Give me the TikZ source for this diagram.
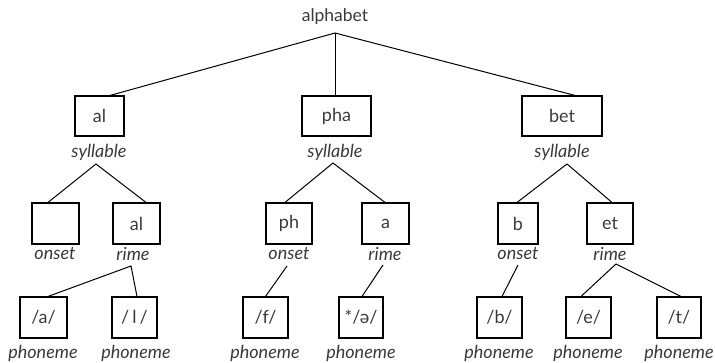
\documentclass[tikz,border=0pt]{standalone}
\usepackage{fontspec}
\setmainfont{Lato}
\definecolor{txt}{HTML}{3A3A3A}
\tikzset{
  box/.style={draw=black, line width=1.1pt, minimum height=40pt, inner sep=0pt, text=txt, font=\fontsize{18}{21}\selectfont},
  lab/.style={text=txt, font=\fontsize{18}{21}\selectfont\itshape, inner sep=0pt},
  conn/.style={draw=black, line width=1pt},
}
\begin{document}
\begin{tikzpicture}[x=1pt,y=-1pt]
\useasboundingbox (0,0) rectangle (715,363);
% root
\node[text=txt, font=\fontsize{17.5}{21}\selectfont, inner sep=0pt] (root) at (335,17) {alphabet};
\coordinate (rootA) at (335,33);
% level 1
\node[box, minimum width=49pt] (al) at (99.5,116) {al};
\node[box, minimum width=69pt] (pha) at (336.5,116) {pha};
\node[box, minimum width=80pt] (bet) at (562,116) {bet};
\node[lab] (alS) at (99,152) {syllable};
\node[lab] (phaS) at (335,152) {syllable};
\node[lab] (betS) at (562,152) {syllable};
\coordinate (alA) at (96,164);
\coordinate (phaA) at (333,163);
\coordinate (betA) at (567,164);
% level 2
\node[box, minimum width=47pt, minimum height=41pt] (on1) at (55.5,223.5) {};
\node[box, minimum width=47pt, minimum height=41pt] (ri1) at (136.5,223.5) {al};
\node[box, minimum width=46pt, minimum height=41pt] (on2) at (289,223.5) {ph};
\node[box, minimum width=47pt, minimum height=41pt] (ri2) at (385.5,223.5) {a};
\node[box, minimum width=40pt, minimum height=41pt] (on3) at (518,223.5) {b};
\node[box, minimum width=46pt, minimum height=41pt] (ri3) at (610,223.5) {et};
\node[lab] (on1L) at (55,254) {onset};
\node[lab] (ri1L) at (133,254) {rime};
\node[lab] (on2L) at (289,254) {onset};
\node[lab] (ri2L) at (385,254) {rime};
\node[lab] (on3L) at (518,254) {onset};
\node[lab] (ri3L) at (610,254) {rime};
\coordinate (ri1A) at (131,266);
\coordinate (on2A) at (287,266);
\coordinate (ri2A) at (383,265);
\coordinate (on3A) at (518,265);
\coordinate (ri3A) at (616,264);
% level 3
\node[box, minimum width=47pt, minimum height=41pt] (p1) at (43.5,317.5) {/a/};
\node[box, minimum width=45pt, minimum height=41pt] (p2) at (134.5,317.5) {/\,l\,/};
\node[box, minimum width=45pt, minimum height=41pt] (p3) at (265.5,317.5) {/f/};
\node[box, minimum width=44pt, minimum height=41pt] (p4) at (361,317.5) {*/ə/};
\node[box, minimum width=45pt, minimum height=41pt] (p5) at (499.5,317.5) {/b/};
\node[box, minimum width=45pt, minimum height=41pt] (p6) at (588.5,317.5) {/e/};
\node[box, minimum width=44pt, minimum height=41pt] (p7) at (679,317.5) {/t/};
\node[lab] at (43,353) (p1L) {phoneme};
\node[lab] at (136,353) (p2L) {phoneme};
\node[lab] at (265,353) (p3L) {phoneme};
\node[lab] at (361,353) (p4L) {phoneme};
\node[lab] at (499,353) (p5L) {phoneme};
\node[lab] at (588,353) (p6L) {phoneme};
\node[lab] at (679,353) (p7L) {phoneme};
% connectors
\draw[conn] ([xshift=10.5pt]al.north) -- (rootA) -- ([xshift=13pt]bet.north);
\draw[conn] (rootA) -- ([xshift=-1.5pt]pha.north);
\draw[conn] ([xshift=-7.5pt]on1.north) -- (alA) -- ([xshift=9.5pt]ri1.north);
\draw[conn] ([xshift=-4pt]on2.north) -- (phaA) -- ([xshift=-0.5pt]ri2.north);
\draw[conn] ([xshift=-1pt]on3.north) -- (betA) -- ([xshift=2pt]ri3.north);
\draw[conn] ([xshift=4.5pt]p1.north) -- (ri1A) -- ([xshift=2.5pt]p2.north);
\draw[conn] (on2A) -- (p3.north);
\draw[conn] (ri2A) -- ([xshift=1pt]p4.north);
\draw[conn] (on3A) -- ([xshift=2.5pt]p5.north);
\draw[conn] ([xshift=-7.5pt]p6.north) -- (ri3A) -- ([xshift=2pt]p7.north);
\end{tikzpicture}
\end{document}
